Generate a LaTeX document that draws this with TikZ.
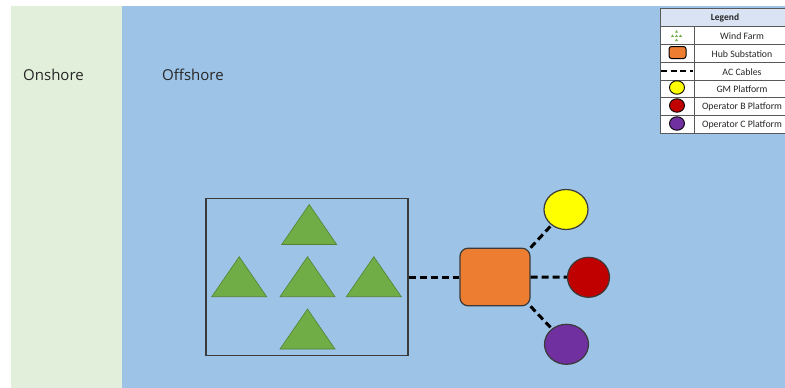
\documentclass[tikz,border=0pt]{standalone}
\usepackage{fontspec}
\setmainfont{Open Sans}
\newfontfamily\legfont{Carlito}
\usetikzlibrary{shapes.geometric}
\definecolor{onshorec}{HTML}{E2EFDA}
\definecolor{offshorec}{HTML}{9DC3E6}
\definecolor{turbc}{HTML}{70AD47}
\definecolor{turbd}{HTML}{548235}
\definecolor{hubc}{HTML}{ED7D31}
\definecolor{leghc}{HTML}{DAE3F3}
\definecolor{purpc}{HTML}{7030A0}
\definecolor{redc}{HTML}{C00000}
\definecolor{yelc}{HTML}{FFFF00}
\definecolor{edgec}{HTML}{3A3A3A}
\definecolor{textc}{HTML}{262626}
\begin{document}
\begin{tikzpicture}[x=1pt,y=-1pt,
  zone/.style={text=textc,font=\fontsize{15}{17}\selectfont,anchor=west,inner sep=0},
  turbine/.pic={\draw[fill=turbc,draw=turbd,line width=0.6] (-27.5,0) -- (0,-40) -- (27.5,0) -- cycle;},
  farmbox/.style={draw=edgec,line width=1.2,minimum width=202,minimum height=157.5,inner sep=0},
  hubbox/.style={draw=edgec,fill=hubc,line width=1.2,rounded corners=8,minimum width=70,minimum height=57.5,inner sep=0},
  platform/.style={ellipse,draw=edgec,line width=1.2,minimum width=44,minimum height=40,inner sep=0},
  cable/.style={line width=3,dash pattern=on 7 off 4},
  legline/.style={draw=gray!70!black,line width=0.8},
  legtext/.style={text=textc,font=\legfont\fontsize{9.8}{11}\selectfont,inner sep=0},
  legdot/.style={fill=turbc}
]
\useasboundingbox (0,0) rectangle (785,388);
\clip (0,0) rectangle (785,388);
\fill[white] (0,0) rectangle (785,388);
% zones
\fill[onshorec] (11,6) rectangle (122,388);
\fill[offshorec] (122,6) rectangle (785,388);
\node[zone] (on) at (23,75) {Onshore};
\node[zone] (off) at (162,75) {Offshore};
% wind farm
\node[farmbox] (wf) at (307,277) {};
\pic at (309.2,244.5) {turbine};
\pic at (239.2,296.7) {turbine};
\pic at (307.5,296.7) {turbine};
\pic at (373.8,296.7) {turbine};
\pic at (307.5,349) {turbine};
% hub and platforms
\node[hubbox] (hub) at (495,277) {};
\node[platform,fill=yelc] (gm) at (566,209.5) {};
\node[platform,fill=redc,minimum width=42] (opb) at (588.5,277.3) {};
\node[platform,fill=purpc] (opc) at (566.5,344.3) {};
\draw[cable] (wf.east) -- (hub.west);
\draw[cable] (hub.north east) -- (gm);
\draw[cable] (hub.east) -- (opb);
\draw[cable] (hub.south east) -- (opc);
% legend
\fill[leghc] (660,8) rectangle (790,26.7);
\fill[white] (660,26.7) rectangle (790,133);
\draw[legline] (660,8) rectangle (790,133);
\foreach \yy in {26.7,44.3,62.3,80,97.7,115.3} \draw[legline] (660,\yy) -- (790,\yy);
\draw[legline] (694,26.7) -- (694,133);
\node[legtext,font=\legfont\bfseries\fontsize{9.5}{11}\selectfont] (lh) at (725,17.5) {Legend};
\node[legtext] (l1) at (742,36) {Wind Farm};
\node[legtext] (l2) at (742,54) {Hub Substation};
\node[legtext] (l3) at (742,71.8) {AC Cables};
\node[legtext] (l4) at (742,89.5) {GM Platform};
\node[legtext] (l5) at (742,107.2) {Operator B Platform};
\node[legtext] (l6) at (742,125) {Operator C Platform};
% legend icons
\foreach \px/\py in {676.5/31.5,672.5/35.8,676.5/35.8,680.5/35.8,676.5/40} \fill[legdot] (\px-1.5,\py+1) -- (\px,\py-1.3) -- (\px+1.5,\py+1) -- cycle;
\node[draw=black,fill=hubc,line width=1,rounded corners=2.5,minimum width=17,minimum height=12,inner sep=0] (ihub) at (677.5,52.5) {};
\coordinate (ica) at (661,71);
\coordinate (icb) at (693,71);
\draw[line width=2.5,dash pattern=on 6 off 3.5] (ica) -- (icb);
\node[ellipse,draw=black,fill=yelc,line width=0.9,minimum width=15,minimum height=13.5,inner sep=0] (igm) at (677,87.5) {};
\node[ellipse,draw=black,fill=redc,line width=0.9,minimum width=15,minimum height=13.5,inner sep=0] (iob) at (677,105.5) {};
\node[ellipse,draw=black,fill=purpc,line width=0.9,minimum width=15,minimum height=13.5,inner sep=0] (ioc) at (677,123.5) {};
\end{tikzpicture}
\end{document}
